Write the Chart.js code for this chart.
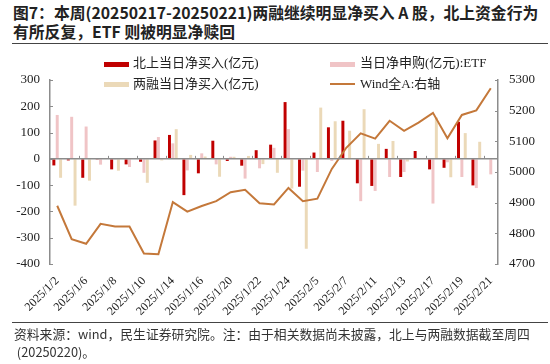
<!DOCTYPE html>
<html>
<head>
<meta charset="utf-8">
<script src="https://cdn.jsdelivr.net/npm/chart.js@4.4.1/dist/chart.umd.min.js"></script>
<style>
  html, body { margin: 0; padding: 0; background: #fff; }
  #wrap { position: relative; width: 550px; height: 364px; overflow: hidden; }
  #c { position: absolute; left: 0; top: 0; }
  .title { position: absolute; left: 13px; top: 3px; font-family: "Noto Sans CJK SC", sans-serif; font-weight: bold; font-size: 15.8px; line-height: 19px; color: #222; white-space: nowrap; }
  .rule { position: absolute; left: 12px; width: 536px; height: 0; border-top: 1.5px solid #444; }
  .foot { position: absolute; left: 14px; top: 325px; font-family: "Noto Sans CJK SC", sans-serif; font-size: 12.8px; line-height: 18px; color: #333; white-space: nowrap; }
  .lg { position: absolute; font-family: "Liberation Serif", "Noto Sans CJK SC", serif; font-size: 13px; color: #222; white-space: nowrap; line-height: 16px; }
  .sw { position: absolute; width: 25px; height: 5px; }
  .ln { position: absolute; width: 25px; height: 2px; }
</style>
</head>
<body>
<div id="wrap">
  <div class="title">图7：本周(20250217-20250221)两融继续明显净买入 A 股，北上资金行为<br>有所反复，ETF 则被明显净赎回</div>
  <div class="rule" style="top:43px"></div>
  <canvas id="c" width="550" height="364"></canvas>
  <div class="sw" style="left:104px; top:62px; background:#C00000"></div>
  <div class="lg" style="left:133px; top:55px">北上当日净买入(亿元)</div>
  <div class="sw" style="left:104px; top:82px; background:#EBD9B8"></div>
  <div class="lg" style="left:133px; top:76px">两融当日净买入(亿元)</div>
  <div class="sw" style="left:330px; top:62px; background:#F0C4C6"></div>
  <div class="lg" style="left:360px; top:55px">当日净申购(亿元):ETF</div>
  <div class="ln" style="left:330px; top:83px; background:#C4783A"></div>
  <div class="lg" style="left:360px; top:76px">Wind全A:右轴</div>
  <div class="rule" style="top:322px"></div>
  <div class="foot">资料来源：wind，民生证券研究院。注：由于相关数据尚未披露，北上与两融数据截至周四<br>&nbsp;(20250220)。</div>
</div>
<script>
const dates = ['2025/1/2','2025/1/3','2025/1/6','2025/1/7','2025/1/8','2025/1/9','2025/1/10','2025/1/13','2025/1/14','2025/1/15','2025/1/16','2025/1/17','2025/1/20','2025/1/21','2025/1/22','2025/1/23','2025/1/24','2025/1/27','2025/2/5','2025/2/6','2025/2/7','2025/2/10','2025/2/11','2025/2/12','2025/2/13','2025/2/14','2025/2/17','2025/2/18','2025/2/19','2025/2/20','2025/2/21'];
const northbound = [-25,-6,-72,-3,-40,-21,-11,70,91,-138,-55,69,-8,-26,33,54,216,-106,24,120,145,-93,-103,38,-69,30,-40,-34,141,-101,null];
const etfNet = [167,160,123,-22,-3,-31,-53,83,59,-44,21,-21,8,-75,-36,42,113,-45,-50,-8,3,-161,-122,-69,-50,-3,-170,-13,-69,-111,-59];
const marginNet = [-72,-178,-83,2,-45,1,-91,-6,113,15,9,-68,8,11,-20,-53,-113,-342,195,143,107,189,57,68,-10,2,157,-70,98,65,null];
const windA = [4890,4781,4766,4831,4822,4822,4734,4732,4902,4871,4889,4905,4934,4942,4898,4894,4948,4905,4913,5010,5079,5126,5109,5167,5134,5161,5193,5110,5186,5201,5273];
const leftTicks = [-400,-300,-200,-100,0,100,200,300];
const rightTicks = [4700,4800,4900,5000,5100,5200,5300];

const axisColor = '#8c8c8c';
const decor = {
  id: 'decor',
  afterDatasetsDraw(chart) {
    const ctx = chart.ctx, a = chart.chartArea;
    const yl = chart.scales.y, yr = chart.scales.y1;
    const y0 = yl.getPixelForValue(0);
    ctx.save();
    ctx.strokeStyle = axisColor;
    ctx.lineWidth = 1.5;
    ctx.beginPath(); ctx.moveTo(a.left, y0); ctx.lineTo(a.right, y0); ctx.stroke();
    ctx.lineWidth = 1;
    const w = (a.right - a.left) / dates.length;
    for (let i = 2; i < dates.length; i += 2) {
      const xx = Math.round(a.left + i * w) + 0.5;
      ctx.beginPath(); ctx.moveTo(xx, y0); ctx.lineTo(xx, y0 - 3); ctx.stroke();
    }
    leftTicks.forEach(v => {
      const yy = Math.round(yl.getPixelForValue(v)) + 0.5;
      ctx.beginPath(); ctx.moveTo(a.left, yy); ctx.lineTo(a.left + 3, yy); ctx.stroke();
    });
    rightTicks.forEach(v => {
      const yy = Math.round(yr.getPixelForValue(v)) + 0.5;
      ctx.beginPath(); ctx.moveTo(a.right, yy); ctx.lineTo(a.right - 3, yy); ctx.stroke();
    });
    ctx.restore();
  }
};

const fam = 'Liberation Serif';
function draw() {
  new Chart(document.getElementById('c'), {
    data: {
      labels: dates,
      datasets: [
        { type: 'line', label: 'Wind全A:右轴', data: windA, yAxisID: 'y1', borderColor: '#C4783A', borderWidth: 2, pointRadius: 0, tension: 0, order: 0 },
        { type: 'bar', label: '北上当日净买入(亿元)', data: northbound, yAxisID: 'y', backgroundColor: '#C00000', barPercentage: 0.88, categoryPercentage: 0.7, order: 1 },
        { type: 'bar', label: '当日净申购(亿元):ETF', data: etfNet, yAxisID: 'y', backgroundColor: '#F0C4C6', barPercentage: 0.88, categoryPercentage: 0.7, order: 1 },
        { type: 'bar', label: '两融当日净买入(亿元)', data: marginNet, yAxisID: 'y', backgroundColor: '#EBD9B8', barPercentage: 0.88, categoryPercentage: 0.7, order: 1 }
      ]
    },
    options: {
      responsive: false,
      animation: false,
      devicePixelRatio: 1,
      layout: { padding: { top: 80, bottom: 44, left: 0, right: 0 } },
      plugins: { legend: { display: false }, tooltip: { enabled: false } },
      scales: {
        x: {
          type: 'category',
          offset: true,
          grid: { display: false },
          border: { display: false },
          ticks: {
            autoSkip: false, maxRotation: 45, minRotation: 45, padding: 2,
            color: '#222', font: { family: fam, size: 12 },
            callback: function(v, i) { return i % 2 === 0 ? dates[i] : ''; }
          },
          afterFit(s) { s.height = 56; }
        },
        y: {
          position: 'left', min: -400, max: 300,
          afterBuildTicks(s) { s.ticks = leftTicks.map(v => ({ value: v })); },
          grid: { drawOnChartArea: false, drawTicks: false },
          border: { color: axisColor, width: 1.5 },
          ticks: { color: '#222', font: { family: fam, size: 13 }, padding: 10, callback: v => String(v) },
          afterFit(s) { s.width = 50; }
        },
        y1: {
          position: 'right', min: 4700, max: 5300,
          afterBuildTicks(s) { s.ticks = rightTicks.map(v => ({ value: v })); },
          grid: { drawOnChartArea: false, drawTicks: false },
          border: { color: axisColor, width: 1.5 },
          ticks: { color: '#222', font: { family: fam, size: 13 }, padding: 11, callback: v => String(v) },
          afterFit(s) { s.width = 52; }
        }
      }
    },
    plugins: [decor]
  });
}
if (document.fonts && document.fonts.load) {
  Promise.all([document.fonts.load('13px "Liberation Serif"'), document.fonts.load('12px "Liberation Serif"')]).then(draw, draw);
} else { draw(); }
</script>
</body>
</html>
